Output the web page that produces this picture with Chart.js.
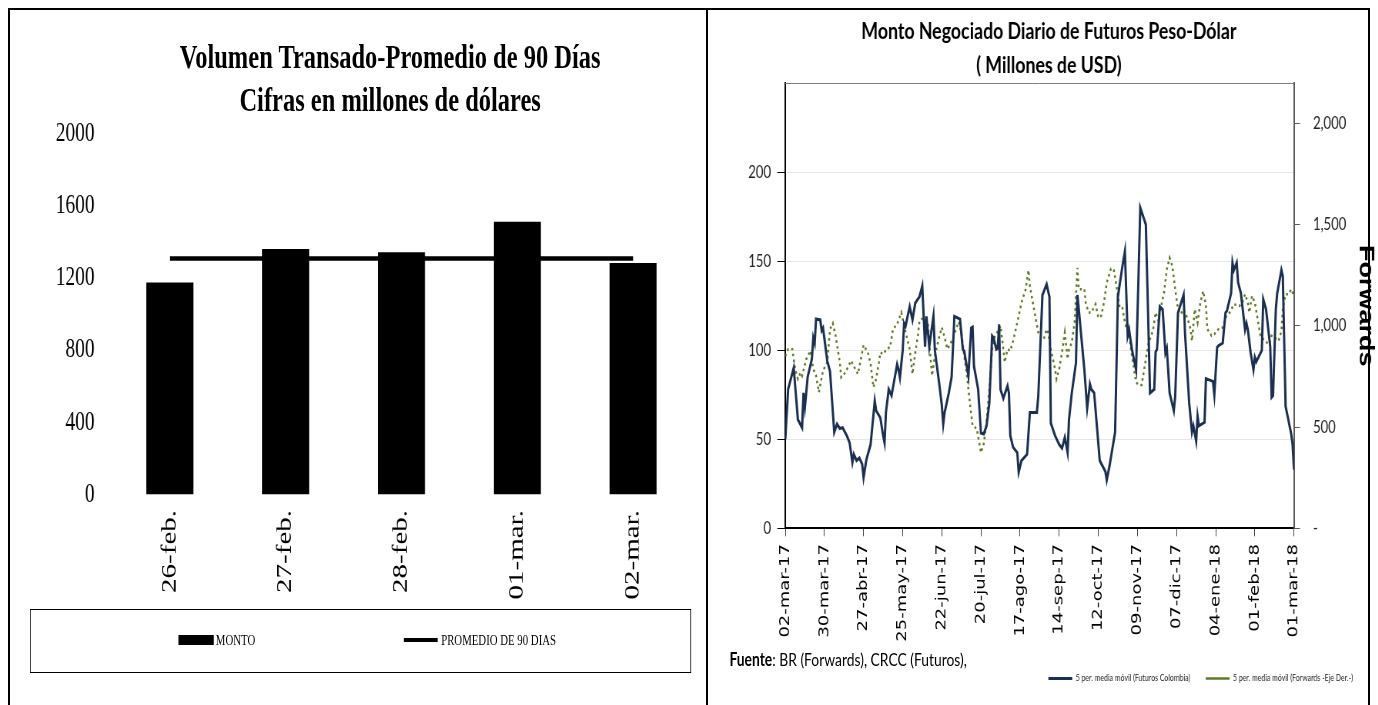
<!DOCTYPE html>
<html lang="es">
<head>
<meta charset="UTF-8">
<title>Volumen transado y futuros peso-dólar</title>
<script src="https://cdn.jsdelivr.net/npm/chart.js"></script>
<style>
  body { margin: 0; background: #fff; width: 1378px; height: 705px; overflow: hidden; position: relative; }
  .marco { position: absolute; left: 8px; top: 8px; width: 1358px; height: 720px; border: 2px solid #000; border-bottom: none; z-index: 5; }
  .divisor { position: absolute; left: 706px; top: 8px; width: 2px; height: 697px; background: #000; z-index: 5; }
  .panel { position: absolute; top: 10px; transform-origin: 0 0; }
  #panelIzq { left: 10px; width: 967px; height: 690px; transform: scaleX(0.72); }
  #panelDer { left: 709px; width: 870px; height: 690px; transform: scaleX(0.77); }
  canvas { position: absolute; left: 0; top: 0; }
  .titulo { position: absolute; left: 0; top: 26px; width: 1056px; text-align: center; font-family: 'Liberation Serif';
            font-weight: bold; font-size: 34px; line-height: 42.5px; color: #000; }
  .leyenda { position: absolute; left: 27.8px; top: 599px; width: 918px; height: 64px; border: 1.5px solid #000; box-sizing: border-box;
             font-family: 'Liberation Serif'; font-size: 15px; line-height: 16px; color: #000; }
  .leyenda span { position: absolute; }
  .fuente { position: absolute; left: 26.5px; top: 639px; font-family: Lato; font-size: 18px; line-height: 20px; color: #000; white-space: nowrap; }
</style>
</head>
<body>
<div class="marco"></div>
<div class="divisor"></div>

<div class="panel" id="panelIzq">
  <canvas id="volumenChart" width="967" height="590"></canvas>
  <div class="titulo">Volumen Transado-Promedio de 90 Días<br>Cifras en millones de dólares</div>
  <div class="leyenda">
    <span style="left:205px; top:25px; width:49px; height:10px; background:#000;"></span>
    <span style="left:257px; top:22px;">MONTO</span>
    <span style="left:518px; top:28px; width:47px; height:4px; background:#000;"></span>
    <span style="left:570px; top:22px;">PROMEDIO DE 90 DIAS</span>
  </div>
</div>

<div class="panel" id="panelDer">
  <canvas id="futurosChart" width="870" height="690"></canvas>
  <div class="fuente"><b>Fuente</b>: BR (Forwards), CRCC (Futuros),</div>
</div>

<script>
    // grafico izquierdo
    const dias = ['26-feb.', '27-feb.', '28-feb.', '01-mar.', '02-mar.'];
    const monto = [1177, 1362, 1344, 1514, 1284];
    const promedio90 = [1309, 1309, 1309, 1309, 1309];

    // grafico derecho (x = dias desde 02-mar-17)
    const fechasEje = ['02-mar-17', '30-mar-17', '27-abr-17', '25-may-17', '22-jun-17', '20-jul-17', '17-ago-17',
                       '14-sep-17', '12-oct-17', '09-nov-17', '07-dic-17', '04-ene-18', '01-feb-18', '01-mar-18'];
    const ticksFuturos = [0, 50, 100, 150, 200];
    const ticksForwards = [0, 500, 1000, 1500, 2000];

    const futurosDia = [
        0, 2, 6, 9, 12, 13, 14, 16, 19, 20,
        21, 22, 25, 26, 27, 30, 32, 35, 37, 39,
        41, 44, 46, 48, 49, 51, 53, 55, 56, 58,
        61, 64, 65, 68, 70, 71, 72, 74, 76, 80,
        81, 82, 84, 85, 86, 89, 91, 93, 96, 98,
        100, 101, 103, 106, 107, 110, 112, 113, 114, 117,
        119, 121, 125, 127, 128, 131, 133, 134, 135, 138,
        140, 142, 144, 146, 148, 149, 151, 152, 153, 154,
        156, 159, 160, 161, 163, 166, 167, 169, 173, 175,
        180, 181, 184, 187, 189, 190, 193, 196, 198, 200,
        202, 203, 205, 208, 209, 210, 214, 216, 218, 219,
        221, 225, 229, 230, 232, 236, 238, 241, 243, 245,
        246, 248, 251, 254, 258, 261, 264, 265, 266, 268,
        270, 272, 273, 275, 278, 279, 281, 285, 286, 289,
        291, 292, 294, 295, 296, 300, 301, 306, 307, 309,
        310, 313, 315, 316, 319, 320, 321, 323, 324, 326,
        329, 330, 331, 333, 335, 336, 337, 341, 342, 344,
        346, 347, 348, 349, 351, 352, 355, 356, 358, 362,
        363, 364
    ];
    const futurosValor = [
        50, 78, 90, 61, 56.5, 76, 68, 85, 95, 107,
        104, 117.5, 117, 111, 112.5, 94, 88, 54, 58.5, 56,
        56.5, 52, 48, 37, 41.5, 38, 39.5, 36, 28.5, 38.5,
        47, 71.5, 66, 62, 52, 48, 65, 78, 74.5, 92,
        89, 84.5, 100, 115, 113.5, 124.5, 117, 126.5, 130, 136,
        102, 119, 102, 119, 100, 82, 69, 58.5, 65, 76,
        85, 119, 117.5, 100.5, 99.5, 85.5, 112.5, 113, 91, 78,
        53.5, 53, 57.5, 70.5, 108, 107, 100.5, 101, 114.5, 78,
        73, 80, 76, 52, 45.5, 42.5, 31.5, 38, 41.5, 65,
        65, 74, 131, 137, 130, 59, 52, 47, 45, 51,
        42.5, 61, 76, 93, 131, 123, 89, 67.5, 81, 78,
        76, 38, 32, 27, 35, 54, 130, 146, 155.5, 108,
        111.5, 100.5, 89, 180, 170.5, 76, 78, 99, 100.5, 124.5,
        123, 98.5, 101, 76, 66, 74, 121, 131, 110, 70.5,
        54, 57.5, 49, 63, 57.5, 59.5, 84, 82.5, 75, 101.5,
        102.5, 104, 121, 122, 132, 149, 145, 149, 138, 132,
        111.5, 115, 111.5, 98.5, 89, 96, 93.5, 100, 128.5, 123,
        109, 102, 73.5, 74.5, 123, 132, 145, 141.5, 68.5, 53,
        47, 33
    ];

    const forwardsDia = [
        0, 2, 5, 7, 9, 11, 12, 15, 18, 20,
        22, 24, 27, 30, 32, 34, 36, 39, 40, 43,
        47, 50, 52, 56, 59, 61, 63, 65, 67, 68,
        70, 73, 75, 77, 80, 83, 85, 87, 89, 91,
        93, 95, 96, 99, 101, 102, 103, 105, 107, 110,
        112, 114, 116, 118, 120, 124, 126, 128, 130, 132,
        134, 137, 140, 142, 144, 146, 148, 150, 153, 154,
        156, 157, 159, 161, 163, 166, 169, 172, 174, 175,
        178, 181, 183, 185, 187, 188, 190, 193, 194, 196,
        198, 200, 202, 203, 205, 207, 209, 210, 214, 215,
        217, 219, 222, 224, 226, 228, 230, 233, 235, 237,
        239, 241, 243, 246, 248, 251, 253, 255, 258, 260,
        263, 265, 267, 269, 271, 273, 275, 277, 279, 281,
        283, 285, 288, 290, 291, 293, 295, 297, 299, 301,
        302, 305, 307, 310, 313, 315, 318, 321, 325, 327,
        329, 331, 332, 334, 336, 338, 340, 343, 346, 348,
        350, 353, 355, 356, 358, 360, 362, 364
    ];
    const forwardsValor = [
        850, 885, 885, 787, 738, 770, 754, 836, 877, 787,
        754, 672, 779, 820, 984, 1013, 951, 820, 746, 770,
        828, 787, 762, 905, 869, 815, 697, 738, 820, 869,
        861, 889, 894, 984, 1008, 1066, 1000, 943, 885, 762,
        869, 959, 1025, 1041, 984, 1016, 918, 754, 853, 943,
        992, 943, 885, 910, 940, 1020, 967, 853, 754, 623,
        508, 492, 374, 418, 525, 689, 885, 951, 984, 1000,
        885, 820, 885, 877, 926, 1016, 1115, 1181, 1276, 1197,
        1082, 967, 943, 935, 984, 967, 885, 787, 738, 787,
        869, 967, 836, 885, 918, 1016, 1287, 1181, 1181, 1115,
        1066, 1066, 1107, 1041, 1049, 1115, 1213, 1282, 1279, 1197,
        1099, 1099, 1016, 951, 853, 721, 708, 708, 836, 918,
        975, 1066, 1025, 1099, 1164, 1279, 1336, 1295, 1181, 1082,
        1058, 1082, 1033, 984, 926, 1082, 1016, 1115, 1172, 1100,
        984, 951, 959, 984, 992, 1041, 1066, 1107, 1099, 1115,
        1156, 1115, 1066, 1148, 1115, 1033, 951, 926, 910, 951,
        943, 926, 975, 1082, 1156, 1156, 1181, 1148
    ];

    function puntos(xs, ys) {
        return xs.map((x, i) => ({ x: x, y: ys[i] }));
    }

    // linea superior del area de grafico
    const bordeSuperior = {
        id: 'bordeSuperior',
        afterDraw(chart) {
            const a = chart.chartArea;
            const ctx = chart.ctx;
            ctx.save();
            ctx.strokeStyle = '#7f7f7f';
            ctx.lineWidth = 1;
            ctx.beginPath();
            ctx.moveTo(a.left, a.top + 0.5);
            ctx.lineTo(a.right, a.top + 0.5);
            ctx.stroke();
            ctx.restore();
        }
    };

    new Chart(document.getElementById('volumenChart'), {
        type: 'bar',
        data: {
            labels: dias,
            datasets: [{
                type: 'line',
                label: 'PROMEDIO DE 90 DIAS',
                data: promedio90,
                borderColor: '#000',
                borderWidth: 4.5,
                pointRadius: 0,
                order: 0
            }, {
                label: 'MONTO',
                data: monto,
                backgroundColor: '#000',
                barPercentage: 0.406,
                categoryPercentage: 1,
                order: 1
            }]
        },
        options: {
            responsive: false,
            maintainAspectRatio: false,
            animation: false,
            layout: { padding: { left: 60, right: 21.2, top: 124, bottom: 0 } },
            plugins: {
                legend: { display: false },
                tooltip: { enabled: false }
            },
            scales: {
                x: {
                    grid: { display: false, drawTicks: false },
                    border: { display: false },
                    ticks: {
                        color: '#000',
                        font: { family: 'Liberation Serif', size: 29 },
                        minRotation: 90,
                        maxRotation: 90,
                        padding: 15.4
                    },
                    afterFit: function(scale) { scale.height = 105.4; }
                },
                y: {
                    min: 0,
                    max: 2000,
                    grid: { display: false, drawTicks: false },
                    border: { display: false },
                    ticks: {
                        stepSize: 400,
                        color: '#000',
                        font: { family: 'Liberation Serif', size: 27, lineHeight: 1 },
                        padding: 24.1,
                        callback: function(value) { return String(value); }
                    },
                    afterFit: function(scale) { scale.width = 81.5; }
                }
            }
        }
    });

    new Chart(document.getElementById('futurosChart'), {
        type: 'line',
        data: {
            datasets: [{
                label: '5 per. media móvil (Futuros Colombia)',
                data: puntos(futurosDia, futurosValor),
                yAxisID: 'y',
                borderColor: '#1c2f4e',
                borderWidth: 3,
                pointRadius: 0
            }, {
                label: '5 per. media móvil (Forwards -Eje Der.-)',
                data: puntos(forwardsDia, forwardsValor),
                yAxisID: 'y2',
                borderColor: '#5e7a2a',
                borderWidth: 2.5,
                borderDash: [2.5, 3.5],
                pointRadius: 0
            }]
        },
        plugins: [bordeSuperior],
        options: {
            responsive: false,
            maintainAspectRatio: false,
            animation: false,
            layout: { padding: { left: 26.5, right: 13.7, top: 0, bottom: 7 } },
            plugins: {
                tooltip: { enabled: false },
                title: {
                    display: true,
                    text: ['Monto Negociado Diario de Futuros Peso-Dólar', '( Millones de USD)'],
                    color: '#000',
                    font: { family: 'Lato', size: 23, weight: 'bold', lineHeight: 1.5 },
                    padding: { top: 4, bottom: 0 }
                },
                legend: {
                    position: 'bottom',
                    align: 'end',
                    labels: {
                        color: '#222',
                        font: { family: 'Lato', size: 9 },
                        usePointStyle: true,
                        pointStyle: 'line',
                        pointStyleWidth: 31,
                        boxWidth: 31,
                        padding: 20
                    }
                }
            },
            scales: {
                x: {
                    type: 'linear',
                    min: 0,
                    max: 364,
                    grid: { drawOnChartArea: false, tickLength: 8, tickColor: '#404040' },
                    border: { color: '#000', width: 2 },
                    ticks: {
                        stepSize: 28,
                        autoSkip: false,
                        minRotation: 90,
                        maxRotation: 90,
                        padding: 7.7,
                        color: '#000',
                        font: { family: 'DejaVu Sans', size: 18 },
                        callback: function(value) { return fechasEje[value / 28]; }
                    },
                    afterFit: function(scale) { scale.height = 125.7; }
                },
                y: {
                    position: 'left',
                    min: 0,
                    max: 250,
                    grid: { color: '#e6e6e6', tickColor: '#000', tickLength: 10.4 },
                    border: { color: '#000', width: 2 },
                    ticks: {
                        padding: 8.2,
                        color: '#222',
                        font: { family: 'Lato', size: 17 }
                    },
                    afterBuildTicks: function(scale) {
                        scale.ticks = ticksFuturos.map(v => ({ value: v }));
                    },
                    afterFit: function(scale) { scale.width = 72.6; }
                },
                y2: {
                    position: 'right',
                    min: 0,
                    max: 2200,
                    grid: { drawOnChartArea: false, tickColor: '#595959', tickLength: 7.8 },
                    border: { color: '#595959', width: 2 },
                    ticks: {
                        padding: 16.9,
                        color: '#222',
                        font: { family: 'Lato', size: 17 },
                        callback: function(value) { return value === 0 ? '-' : value.toLocaleString('en-US'); }
                    },
                    afterBuildTicks: function(scale) {
                        scale.ticks = ticksForwards.map(v => ({ value: v }));
                    },
                    title: {
                        display: true,
                        text: 'Forwards',
                        color: '#000',
                        font: { family: 'Liberation Sans', size: 27, weight: 'bold' },
                        padding: { top: -12, bottom: 0 }
                    },
                    afterFit: function(scale) { scale.width = 96.6; }
                }
            }
        }
    });
</script>
</body>
</html>
